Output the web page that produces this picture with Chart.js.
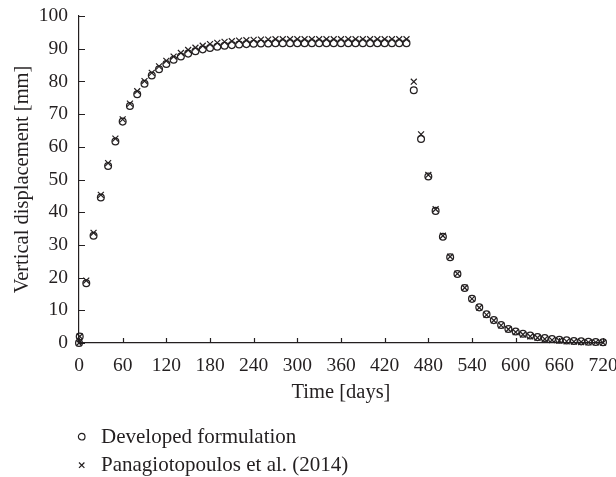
<!DOCTYPE html>
<html>
<head>
<meta charset="utf-8">
<script src="https://cdn.jsdelivr.net/npm/chart.js@4/dist/chart.umd.min.js"></script>
<style>
	html, body { margin: 0; padding: 0; background: #fff; }
	#wrap { position: relative; width: 616px; height: 477px; }
	#legend { position: absolute; left: 0; top: 0; font-family: "Liberation Serif", "DejaVu Serif", serif; font-size: 21px; color: #231f20; }
	.row { position: absolute; left: 76px; white-space: nowrap; line-height: 24px; height: 24px; }
	.row svg { position: absolute; left: 0; top: 7px; }
	.row span { position: absolute; left: 25px; top: 0; }
</style>
</head>
<body>
<div id="wrap">
	<canvas id="chart" width="616" height="477"></canvas>
	<div id="legend">
		<div class="row" style="top:424px">
			<svg width="12" height="12"><circle cx="5.7" cy="5.7" r="3.3" fill="none" stroke="#231f20" stroke-width="1.2"/></svg>
			<span>Developed formulation</span>
		</div>
		<div class="row" style="top:452px">
			<svg width="12" height="12"><path d="M3 3.5 L8.4 8.9 M8.4 3.5 L3 8.9" stroke="#231f20" stroke-width="1.2"/></svg>
			<span>Panagiotopoulos et al. (2014)</span>
		</div>
	</div>
</div>
<script>
(function() {
	"use strict";

	var INK = "#231f20";
	var SERIF = "'Liberation Serif', 'DejaVu Serif', serif";

	// time in days
	var days = [0, 1, 10, 20, 30, 40, 50, 60, 70, 80, 90, 100, 110, 120, 130, 140, 150, 160, 170, 180,
		190, 200, 210, 220, 230, 240, 250, 260, 270, 280, 290, 300, 310, 320, 330, 340, 350, 360, 370,
		380, 390, 400, 410, 420, 430, 440, 450, 460, 470, 480, 490, 500, 510, 520, 530, 540, 550, 560,
		570, 580, 590, 600, 610, 620, 630, 640, 650, 660, 670, 680, 690, 700, 710, 720];

	// vertical displacement [mm], developed formulation
	var developed = [0, 2.0, 18.3, 32.8, 44.5, 54.1, 61.6, 67.7, 72.5, 76.1, 79.3, 81.8, 83.7, 85.3, 86.6,
		87.6, 88.5, 89.2, 89.8, 90.2, 90.6, 90.9, 91.1, 91.3, 91.4, 91.5, 91.6, 91.6, 91.7, 91.7, 91.7,
		91.7, 91.7, 91.7, 91.7, 91.7, 91.7, 91.7, 91.7, 91.7, 91.7, 91.7, 91.7, 91.7, 91.7, 91.7, 91.7,
		77.3, 62.4, 50.9, 40.4, 32.5, 26.2, 21.1, 16.8, 13.5, 10.9, 8.8, 7.0, 5.5, 4.3, 3.5, 2.8, 2.3,
		1.8, 1.5, 1.2, 1.0, 0.8, 0.6, 0.5, 0.4, 0.3, 0.25];

	// vertical displacement [mm], Panagiotopoulos et al. (2014)
	var panagiotopoulos = [0, 2.0, 19.1, 33.7, 45.3, 55.0, 62.5, 68.4, 73.2, 77.0, 80.1, 82.6, 84.6, 86.3,
		87.6, 88.7, 89.6, 90.3, 90.9, 91.4, 91.8, 92.1, 92.3, 92.5, 92.6, 92.7, 92.8, 92.8, 92.9, 92.9,
		92.9, 92.9, 92.9, 92.9, 92.9, 92.9, 92.9, 92.9, 92.9, 92.9, 92.9, 92.9, 92.9, 92.9, 92.9, 92.9,
		92.9, 79.9, 63.8, 51.4, 40.9, 32.8, 26.4, 21.2, 16.9, 13.5, 10.8, 8.6, 6.9, 5.4, 4.2, 3.3, 2.6,
		2.0, 1.6, 1.2, 0.9, 0.7, 0.5, 0.4, 0.3, 0.2, 0.2, 0.1];

	var xTicks = [0, 60, 120, 180, 240, 300, 360, 420, 480, 540, 600, 660, 720];
	var yTicks = [0, 10, 20, 30, 40, 50, 60, 70, 80, 90, 100];

	function points(values) {
		return days.map(function(d, i) { return { x: d, y: values[i] }; });
	}

	// small tick marks pointing into the plot
	var innerTicks = {
		id: "innerTicks",
		beforeDatasetsDraw: function(chart) {
			var ctx = chart.ctx, xs = chart.scales.x, ys = chart.scales.y;
			ctx.save();
			ctx.strokeStyle = INK;
			ctx.lineWidth = 1.2;
			ctx.beginPath();
			xTicks.forEach(function(v) {
				var px = Math.round(xs.getPixelForValue(v)) + 0.5;
				ctx.moveTo(px, ys.bottom);
				ctx.lineTo(px, ys.bottom - 5);
			});
			yTicks.forEach(function(v) {
				var py = Math.round(ys.getPixelForValue(v)) + 0.5;
				ctx.moveTo(xs.left, py);
				ctx.lineTo(xs.left + 6, py);
			});
			ctx.stroke();
			ctx.restore();
		}
	};

	document.addEventListener("DOMContentLoaded", function() {
		var ctx = document.getElementById("chart").getContext("2d");

		new Chart(ctx, {
			type: "scatter",
			data: {
				datasets: [{
					label: "Panagiotopoulos et al. (2014)",
					data: points(panagiotopoulos),
					pointStyle: "crossRot",
					pointRadius: 4.2,
					borderColor: INK,
					backgroundColor: INK,
					pointBorderWidth: 1.2,
					clip: false
				}, {
					label: "Developed formulation",
					data: points(developed),
					pointStyle: "circle",
					pointRadius: 3.4,
					borderColor: INK,
					backgroundColor: "rgba(0,0,0,0)",
					pointBorderWidth: 1.25,
					clip: false
				}]
			},
			options: {
				responsive: false,
				animation: false,
				events: [],
				layout: { padding: { left: 0, top: 16, right: 13, bottom: 72 } },
				plugins: {
					legend: { display: false },
					tooltip: { enabled: false }
				},
				scales: {
					x: {
						type: "linear",
						min: 0,
						max: 720,
						afterBuildTicks: function(scale) {
							scale.ticks = xTicks.map(function(v) { return { value: v }; });
						},
						afterFit: function(scale) {
							scale.height = 62;
							scale.paddingLeft = 0;
							scale.paddingRight = 0;
						},
						grid: { drawOnChartArea: false, drawTicks: false },
						border: { display: true, color: INK, width: 1.2 },
						ticks: {
							color: INK,
							padding: 11,
							maxRotation: 0,
							autoSkip: false,
							font: { family: SERIF, size: 19.5 }
						},
						title: {
							display: true,
							text: "Time [days]",
							color: INK,
							padding: { top: 0, bottom: 0 },
							font: { family: SERIF, size: 20.5 }
						}
					},
					y: {
						type: "linear",
						min: 0,
						max: 100,
						afterBuildTicks: function(scale) {
							scale.ticks = yTicks.map(function(v) { return { value: v }; });
						},
						afterFit: function(scale) {
							scale.width = 79;
							scale.paddingTop = 0;
							scale.paddingBottom = 0;
						},
						grid: { drawOnChartArea: false, drawTicks: false },
						border: { display: true, color: INK, width: 1.2 },
						ticks: {
							color: INK,
							padding: 11,
							autoSkip: false,
							font: { family: SERIF, size: 19.5 }
						},
						title: {
							display: true,
							text: "Vertical displacement [mm]",
							color: INK,
							padding: { top: 10, bottom: 0 },
							font: { family: SERIF, size: 20.5 }
						}
					}
				}
			},
			plugins: [innerTicks]
		});
	});
}) ();
</script>
</body>
</html>
